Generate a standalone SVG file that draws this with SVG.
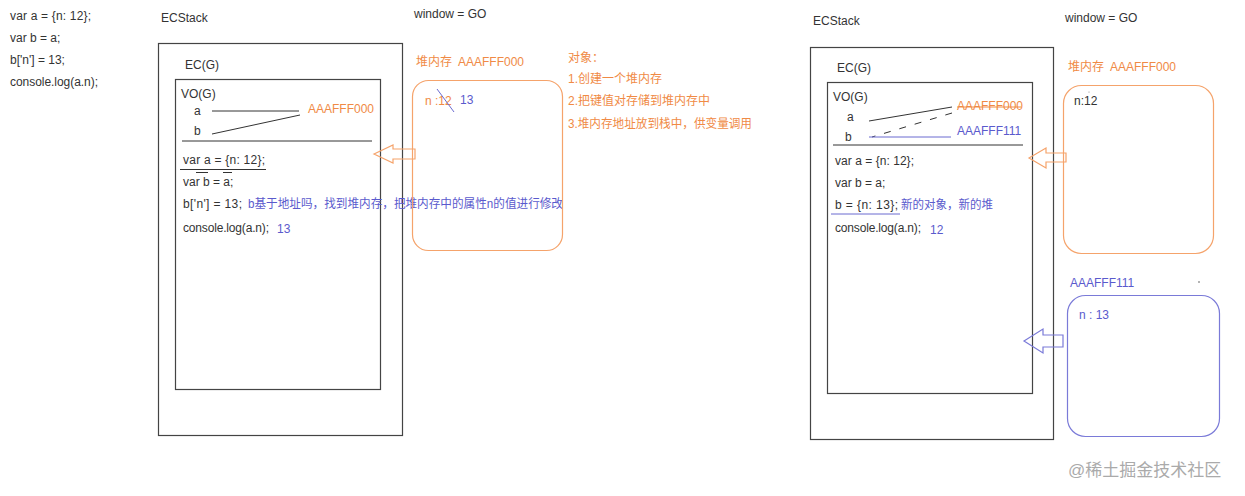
<svg xmlns="http://www.w3.org/2000/svg" width="1245" height="496" viewBox="0 0 1245 496">
<style>
text{font-family:"Liberation Sans","Noto Sans CJK SC",sans-serif;font-size:12px;fill:#333}
.o{fill:#f08a45}
.b{fill:#5a5acd}
.box{fill:none;stroke:#444;stroke-width:1.2}
.ln{stroke:#333;stroke-width:1;fill:none}
.ob{fill:none;stroke:#f5a36b;stroke-width:1.2}
.bb{fill:none;stroke:#7a7ad8;stroke-width:1.2}
.wm{font-size:17px;fill:#aaa}
</style>
<rect width="1245" height="496" fill="#fff"/>

<g id="code">
<text x="10" y="20" textLength="81">var a = {n: 12};</text>
<text x="10" y="42">var b = a;</text>
<text x="10" y="64">b['n'] = 13;</text>
<text x="10" y="86" textLength="88">console.log(a.n);</text>
</g>

<g id="left-ecstack">
<text x="161" y="22">ECStack</text>
<rect class="box" x="158.5" y="43.5" width="244" height="392"/>
<text x="185" y="69">EC(G)</text>
<rect class="box" x="175.5" y="79.5" width="205" height="310"/>
<text x="181" y="98">VO(G)</text>
<text x="194" y="115">a</text>
<text x="194" y="135">b</text>
<text class="o" x="308" y="113">AAAFFF000</text>
<line class="ln" x1="182" y1="141" x2="372" y2="141"/>
<text x="183" y="164" textLength="82">var a = {n: 12};</text>
<line class="ln" x1="180" y1="169.5" x2="266" y2="169.5"/>
<line class="ln" x1="196" y1="172.5" x2="208" y2="172.5"/>
<line class="ln" x1="223" y1="172.5" x2="232" y2="172.5"/>
<text x="183" y="186">var b = a;</text>
<text x="183" y="208" textLength="59">b['n'] = 13;</text>
<text class="b" x="248" y="208" textLength="315" lengthAdjust="spacingAndGlyphs">b基于地址吗，找到堆内存，把堆内存中的属性n的值进行修改</text>
<text x="183" y="232" textLength="86">console.log(a.n);</text>
<text class="b" x="277" y="233">13</text>
</g>

<g id="left-heap">
<text x="414" y="18">window = GO</text>
<text class="o" x="416" y="66">堆内存<tspan x="458">AAAFFF000</tspan></text>
<rect class="ob" x="412.5" y="80.5" width="150" height="170" rx="16"/>
<text class="o" x="425" y="105">n :12</text>
<text class="b" x="460" y="104">13</text>
</g>

<g id="notes">
<text class="o" x="568" y="62">对象：</text>
<text class="o" x="568" y="83">1.创建一个堆内存</text>
<text class="o" x="568" y="105">2.把键值对存储到堆内存中</text>
<text class="o" x="568" y="128" textLength="184" lengthAdjust="spacingAndGlyphs">3.堆内存地址放到栈中，供变量调用</text>
</g>

<g id="right-ecstack">
<text x="813" y="25">ECStack</text>
<rect class="box" x="810.5" y="47.5" width="243" height="392"/>
<text x="837" y="72">EC(G)</text>
<rect class="box" x="827.5" y="82.5" width="205" height="311"/>
<text x="833" y="101">VO(G)</text>
<text x="847" y="121">a</text>
<text x="845" y="141">b</text>
<text class="o" x="957" y="110">AAAFFF000</text>
<text class="b" x="957" y="135">AAAFFF111</text>
<line class="ln" x1="833" y1="145" x2="1023" y2="145"/>
<text x="835" y="165" textLength="79">var a = {n: 12};</text>
<text x="835" y="187">var b = a;</text>
<text x="835" y="209" textLength="63">b = {n: 13};</text>
<text class="b" x="901" y="209" textLength="92" lengthAdjust="spacingAndGlyphs">新的对象，新的堆</text>
<text x="835" y="232" textLength="86">console.log(a.n);</text>
<text class="b" x="930" y="234">12</text>
</g>

<g id="right-heap">
<text x="1065" y="22">window = GO</text>
<text class="o" x="1068" y="71">堆内存<tspan x="1110">AAAFFF000</tspan></text>
<rect class="ob" x="1063.5" y="85.5" width="150" height="168" rx="18"/>
<text x="1074" y="105">n:12</text>
<circle cx="1089" cy="92" r="0.6" fill="#888"/>
</g>

<g id="new-heap">
<text class="b" x="1070" y="287">AAAFFF111</text>
<circle cx="1199" cy="282" r="0.8" fill="#555"/>
<rect class="bb" x="1067.5" y="295.5" width="152" height="141" rx="18"/>
<text class="b" x="1079" y="319">n : 13</text>
</g>

<g id="connectors">
<line class="ln" x1="212" y1="111" x2="299" y2="111"/>
<line class="ln" x1="212" y1="134" x2="300" y2="115"/>
<line x1="437" y1="89" x2="454" y2="112" stroke="#6a6ad0" stroke-width="1"/>
<polygon class="ob" points="374,154 393,145 393,149 415,149 415,159 393,159 393,163"/>
<line class="ln" x1="869" y1="121" x2="952" y2="107"/>
<line class="ln" x1="952" y1="113" x2="872" y2="137" stroke-dasharray="7,9"/>
<line x1="957" y1="107" x2="1021" y2="107" stroke="#f08a45" stroke-width="1"/>
<line x1="869" y1="137" x2="951" y2="137" stroke="#6a6ad0" stroke-width="1"/>
<line x1="831" y1="214" x2="900" y2="214" stroke="#6a6ad0" stroke-width="1"/>
<polygon class="ob" points="1029,158 1046,148 1046,153 1066,153 1066,162 1046,162 1046,168"/>
<polygon class="bb" points="1024,341 1043,329 1043,335 1063,335 1063,347 1043,347 1043,353"/>
</g>

<text class="wm" x="1068" y="476">@稀土掘金技术社区</text>
</svg>
